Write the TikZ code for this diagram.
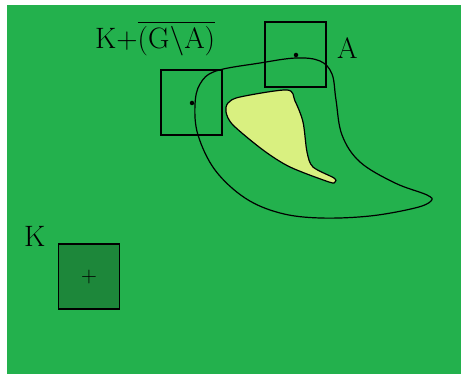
\documentclass[tikz,border=0pt]{standalone}
\usepackage{amsmath}
\definecolor{bggreen}{RGB}{35,177,77}
\definecolor{darkgreen}{RGB}{29,135,58}
\definecolor{paleyellow}{RGB}{217,240,128}
\tikzset{
  sq/.style={draw=black, line width=1.2pt, minimum width=61pt, minimum height=65pt, inner sep=0pt},
  lbl/.style={font=\fontsize{29.5}{34}\selectfont, inner sep=0pt},
  dotnode/.style={circle, fill=black, inner sep=0pt, minimum size=4.5pt},
  curve/.style={draw=black, line width=1.2pt}
}
\begin{document}
\begin{tikzpicture}[x=1pt,y=-1pt]
\useasboundingbox (0,0) rectangle (461,374);
\fill[bggreen] (7,5) rectangle (461,374);
% outer curve
\draw[curve] plot[smooth cycle, tension=0.6] coordinates {
(216,71) (260,63) (296,58) (320,61) (332,74) (336,100) (342,135) (360,162)
(395,183) (427,195) (431,201) (415,208) (370,216) (320,218) (280,213)
(245,198) (215,170) (198,135) (195,105) (200,84)};
% yellow shape
\filldraw[curve, fill=paleyellow] plot[smooth cycle, tension=0.5] coordinates {
(228,103) (240,97) (287,90) (295,101) (303,122) (307,152) (313,167)
(334,178) (335,182) (329,182) (290,167) (263,150) (233,125) (226,112)};
% squares
\node[sq] (sqA) at (295.5,54.5) {};
\node[sq] (sqB) at (191.5,102.5) {};
\node[sq, fill=darkgreen] (sqK) at (89,276.5) {};
\node[dotnode] (dA) at (296,55) {};
\node[dotnode] (dB) at (192,103) {};
\node[font=\fontsize{22}{24}\selectfont, inner sep=0pt] (plus) at (89,277) {+};
% labels
\node[lbl, anchor=base west] (labKGA) at (95,48.5) {K+$\overline{\text{(G\textbackslash A)}}$};
\node[lbl, anchor=base west] (labA) at (337,58.5) {A};
\node[lbl, anchor=base west] (labK) at (24,246.5) {K};
\end{tikzpicture}
\end{document}
